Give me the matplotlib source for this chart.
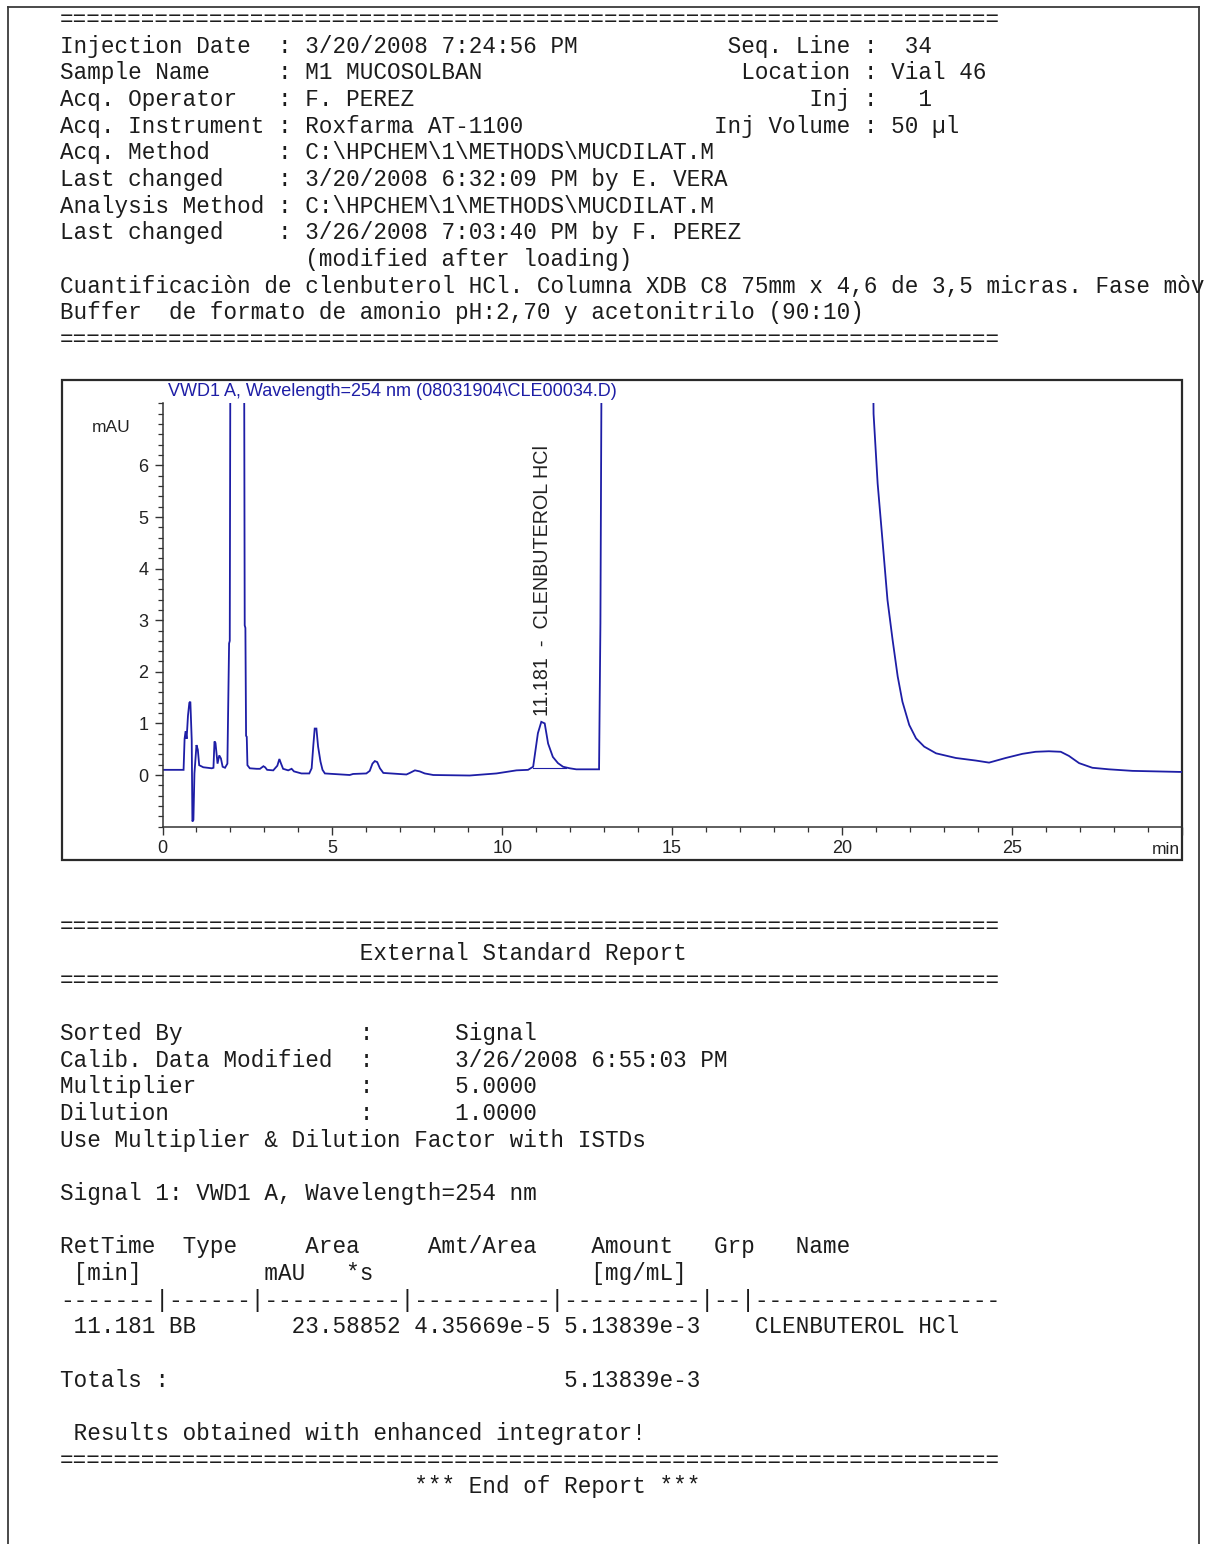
import matplotlib.pyplot as plt
from matplotlib.patches import Rectangle
from matplotlib.ticker import MultipleLocator, FixedLocator

# --- datos del cromatograma (tiempo en min, señal en mAU) ---
tiempo = [0.00, 0.62, 0.65, 0.68, 0.71, 0.75, 0.79, 0.82, 0.86, 0.88, 0.91, 0.94,
          1.00, 1.04, 1.08, 1.20, 1.45, 1.50, 1.53, 1.56, 1.62, 1.67, 1.72, 1.77,
          1.84, 1.91, 1.96, 1.98, 2.00, 2.40, 2.42, 2.44, 2.46, 2.48, 2.50, 2.57,
          2.77, 2.87, 2.97, 3.02, 3.08, 3.26, 3.38, 3.44, 3.49, 3.55, 3.70, 3.80,
          3.87, 4.09, 4.32, 4.39, 4.44, 4.48, 4.53, 4.58, 4.65, 4.71, 4.78, 5.51,
          5.61, 6.00, 6.10, 6.18, 6.25, 6.32, 6.40, 6.50, 7.18, 7.28, 7.43, 7.57,
          7.72, 7.97, 9.04, 9.83, 10.42, 10.76, 10.91, 11.05, 11.15, 11.25, 11.35,
          11.49, 11.64, 11.79, 11.99, 12.18, 12.85, 12.89, 12.93, 20.90, 20.93,
          21.05, 21.20, 21.34, 21.49, 21.64, 21.78, 21.98, 22.18, 22.42, 22.77,
          23.35, 23.94, 24.33, 24.82, 25.31, 25.70, 26.09, 26.44, 26.68, 26.98,
          27.37, 27.86, 28.55, 29.92, 30.00]
senal = [0.10, 0.10, 0.70, 0.85, 0.70, 1.15, 1.40, 1.42, 0.68, -0.90, -0.87, 0.03,
         0.58, 0.49, 0.19, 0.15, 0.13, 0.14, 0.65, 0.62, 0.22, 0.38, 0.32, 0.16,
         0.14, 0.22, 2.55, 2.60, 9.00, 9.00, 2.90, 2.85, 0.76, 0.74, 0.19, 0.13,
         0.12, 0.12, 0.17, 0.15, 0.10, 0.09, 0.18, 0.31, 0.22, 0.12, 0.09, 0.12,
         0.07, 0.03, 0.03, 0.13, 0.58, 0.90, 0.90, 0.55, 0.26, 0.10, 0.03, 0.00,
         0.02, 0.03, 0.08, 0.22, 0.27, 0.25, 0.13, 0.04, 0.01, 0.04, 0.09, 0.07,
         0.03, 0.00, -0.01, 0.03, 0.09, 0.10, 0.16, 0.81, 1.03, 1.00, 0.61,
         0.35, 0.23, 0.16, 0.13, 0.11, 0.11, 2.94, 9.00, 9.00, 7.00,
         5.65, 4.49, 3.39, 2.62, 1.91, 1.42, 0.97, 0.71, 0.55, 0.42,
         0.33, 0.28, 0.24, 0.33, 0.41, 0.45, 0.46, 0.45, 0.37, 0.23,
         0.14, 0.11, 0.08, 0.06, 0.06]

# linea base de integracion del pico
base_t = [10.92, 11.88]
base_y = [0.14, 0.14]

pico_tr = 11.181
pico_nombre = "CLENBUTEROL HCl"
titulo_senal = "VWD1 A, Wavelength=254 nm (08031904\\CLE00034.D)"

# --- encabezado del informe ---
hdr_etiquetas = ["Injection Date", "Sample Name", "Acq. Operator", "Acq. Instrument",
                 "Acq. Method", "Last changed", "Analysis Method", "Last changed"]
hdr_valores = ["3/20/2008 7:24:56 PM", "M1 MUCOSOLBAN", "F. PEREZ", "Roxfarma AT-1100",
               "C:\\HPCHEM\\1\\METHODS\\MUCDILAT.M", "3/20/2008 6:32:09 PM by E. VERA",
               "C:\\HPCHEM\\1\\METHODS\\MUCDILAT.M", "3/26/2008 7:03:40 PM by F. PEREZ"]
der_etiquetas = ["Seq. Line", "Location", "Inj", "Inj Volume"]
der_valores = [" 34", "Vial 46", "  1", "50 \u00b5l"]
nota_modif = "(modified after loading)"
descripcion = ["Cuantificaci\u00f2n de clenbuterol HCl. Columna XDB C8 75mm x 4,6 de 3,5 micras. Fase m\u00f2v",
               "Buffer  de formato de amonio pH:2,70 y acetonitrilo (90:10)"]

# --- informe de estandar externo ---
rep_etiquetas = ["Sorted By", "Calib. Data Modified", "Multiplier", "Dilution"]
rep_valores = ["Signal", "3/26/2008 6:55:03 PM", "5.0000", "1.0000"]
tabla_ret = [11.181]
tabla_tipo = ["BB"]
tabla_area = [23.58852]
tabla_amt_area = ["4.35669e-5"]
tabla_amount = ["5.13839e-3"]
tabla_grp = [""]
tabla_nombre = ["CLENBUTEROL HCl"]
total_amount = "5.13839e-3"

W, H = 1210, 1544
fig = plt.figure(figsize=(W / 100, H / 100), dpi=100)

# eje "pagina" en coordenadas de pixel
pg = fig.add_axes([0, 0, 1, 1])
pg.set_xlim(0, W)
pg.set_ylim(H, 0)
pg.axis('off')

borde = '#3a3a3a'
pg.plot([8, 1199], [7, 7], color=borde, lw=1.3)
pg.plot([8, 8], [7, H], color=borde, lw=1.3)
pg.plot([1199, 1199], [7, H], color=borde, lw=1.3)

# texto monoespaciado
X0 = 60
CW = 13.6
LH = 26.67
mono = dict(family='Liberation Mono', fontsize=16.3, color='#1c1c1c', va='baseline', ha='left')


def linea(y, s, col=0):
    return pg.text(X0 + col * CW, y, s, **mono)


igual = "=" * 69
y_hdr = 52.7
linea(y_hdr - LH, igual)
for i, (e, v) in enumerate(zip(hdr_etiquetas, hdr_valores)):
    s = f"{e:<16}: {v}"
    if i < len(der_etiquetas):
        der = f"{der_etiquetas[i]} : {der_valores[i]}"
        col_inicio = 59 - len(der_etiquetas[i]) - 1
        s = s.ljust(col_inicio) + der
    linea(y_hdr + i * LH, s)
linea(y_hdr + 8 * LH, " " * 18 + nota_modif)
linea(y_hdr + 9 * LH, descripcion[0])
linea(y_hdr + 10 * LH, descripcion[1])
linea(y_hdr + 11 * LH, igual)

y_rep = 1040
linea(y_rep - 4 * LH, igual)
linea(y_rep - 3 * LH, " " * 22 + "External Standard Report")
linea(y_rep - 2 * LH, igual)
for i, (e, v) in enumerate(zip(rep_etiquetas, rep_valores)):
    linea(y_rep + i * LH, f"{e:<22}:      {v}")
linea(y_rep + 4 * LH, "Use Multiplier & Dilution Factor with ISTDs")
linea(y_rep + 6 * LH, "Signal 1: VWD1 A, Wavelength=254 nm")
linea(y_rep + 8 * LH, "RetTime  Type     Area     Amt/Area    Amount   Grp   Name")
linea(y_rep + 9 * LH, " [min]         mAU   *s                [mg/mL]")
linea(y_rep + 10 * LH, "-------|------|----------|----------|----------|--|------------------")
for j in range(len(tabla_ret)):
    fila = (f" {tabla_ret[j]:6.3f} {tabla_tipo[j]:<6} {tabla_area[j]:>10.5f} "
            f"{tabla_amt_area[j]:>10} {tabla_amount[j]:>10} {tabla_grp[j]:<2} {tabla_nombre[j]}")
    linea(y_rep + (11 + j) * LH, fila)
linea(y_rep + 13 * LH, f"{'Totals :':<37}{total_amount}")
linea(y_rep + 15 * LH, " Results obtained with enhanced integrator!")
linea(y_rep + 16 * LH, igual)
linea(y_rep + 17 * LH, " " * 26 + "*** End of Report ***")

# marco del grafico
pg.add_patch(Rectangle((62, 380), 1182 - 62, 860 - 380, fill=False, ec='#2a2a2a', lw=1.6))

azul = '#1e1ea6'
sans = 'Liberation Sans'
pg.text(168, 391, titulo_senal, family=sans, fontsize=13, color=azul, ha='left', va='center')
pg.text(111, 428, "mAU", family=sans, fontsize=12.5, color='#222222', ha='center', va='center')

# ejes del cromatograma (x=0 en px 162.5, x=30 en px 1181.7; y: 0 en px 775, 51.6 px/mAU)
ymin, ymax = -1.0, 7.2
px_bot = 775 + (-ymin) * 51.6
px_top = 775 - ymax * 51.6
ax = fig.add_axes([162.5 / W, 1 - px_bot / H, (1181.7 - 162.5) / W, (px_bot - px_top) / H])
ax.patch.set_alpha(0)
ax.plot(tiempo, senal, color=azul, lw=1.3, solid_joinstyle='miter')
ax.plot(base_t, base_y, color=azul, lw=0.8)
ax.set_xlim(0, 30)
ax.set_ylim(ymin, ymax)

for lado in ['top', 'right']:
    ax.spines[lado].set_visible(False)
for lado in ['left', 'bottom']:
    ax.spines[lado].set_color('#333333')
    ax.spines[lado].set_linewidth(1.1)

ax.xaxis.set_major_locator(FixedLocator([0, 5, 10, 15, 20, 25, 30]))
ax.set_xticklabels(['0', '5', '10', '15', '20', '25', ''])
ax.xaxis.set_minor_locator(MultipleLocator(1))
ax.yaxis.set_major_locator(FixedLocator([0, 1, 2, 3, 4, 5, 6]))
ax.yaxis.set_minor_locator(MultipleLocator(0.2))
ax.tick_params(which='major', direction='out', length=6, width=1, color='#333333',
               labelsize=13, labelcolor='#222222', pad=4)
ax.tick_params(which='minor', direction='out', length=3.6, width=0.9, color='#333333')
for lab in ax.get_xticklabels() + ax.get_yticklabels():
    lab.set_family(sans)

pg.text(1180, 849, "min", family=sans, fontsize=12.5, color='#222222', ha='right', va='center')

ax.text(pico_tr, 1.15, f"{pico_tr:.3f}  -  {pico_nombre}", rotation=90, family=sans,
        fontsize=14.2, color='#222222', ha='center', va='bottom')

fig.savefig('out.png', dpi=100)
